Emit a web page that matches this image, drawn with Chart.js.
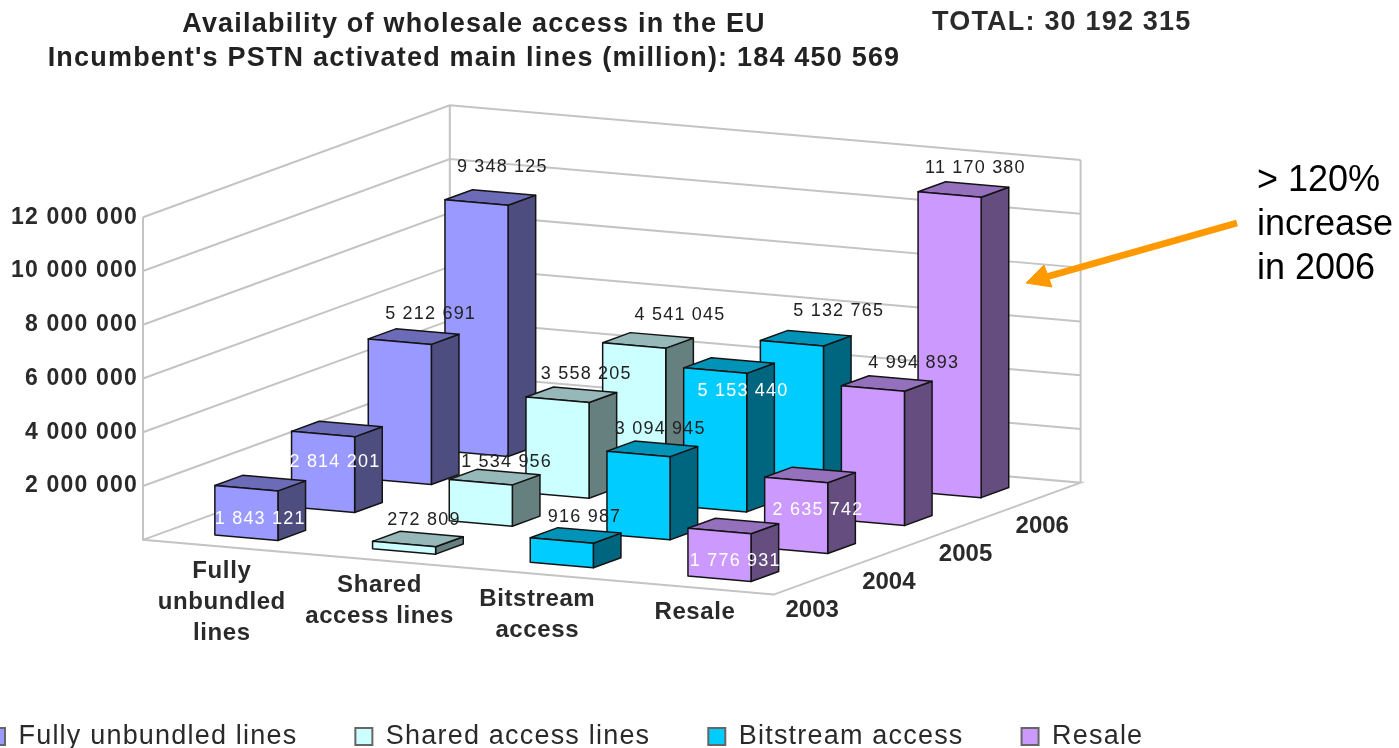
<!DOCTYPE html>
<html lang="en">
<head>
  <meta charset="UTF-8">
  <title>Availability of wholesale access in the EU</title>
  <script src="https://cdn.jsdelivr.net/npm/chart.js@4"></script>
  <style>
    html, body { margin: 0; padding: 0; background: #fff; overflow: hidden; }
    .chart-container { position: relative; width: 1399px; height: 748px; }
  </style>
</head>
<body>
  <div class="chart-container">
    <canvas id="accessChart"></canvas>
  </div>

  <script>
    // chart data
    const years = ['2003', '2004', '2005', '2006'];
    const categoryLines = [['Fully', 'unbundled', 'lines'], ['Shared', 'access lines'], ['Bitstream', 'access'], ['Resale']];
    const seriesNames = ['Fully unbundled lines', 'Shared access lines', 'Bitstream access', 'Resale'];
    const fullyUnbundled = [1843121, 2814201, 5212691, 9348125];
    const sharedAccess = [272809, 1534956, 3558205, 4541045];
    const bitstream = [916987, 3094945, 5153440, 5132765];
    const resale = [1776931, 2635742, 4994893, 11170380];
    const titleLines = ['Availability of wholesale access in the EU', "Incumbent's PSTN activated main lines (million): 184 450 569"];
    const totalLabel = 'TOTAL: 30 192 315';
    const noteLines = ['> 120%', 'increase', 'in 2006'];

    // colours per series: front, top, side
    const faceColors = [
      ['#9999ff', '#6b6bb8', '#4d4d80'],
      ['#ccffff', '#97b8b8', '#668080'],
      ['#00ccff', '#0093b8', '#006680'],
      ['#cc99ff', '#9570bd', '#664d80']
    ];

    // oblique projection, expressed in axis units
    const DEPTH_X = 0.4864;      // x units per year slot
    const DEPTH_Y = 1040000;     // value units per year slot
    const ROW_Y = -509000;       // value units per category slot
    const BAR_U = 0.3, BAR_W = 0.4;
    const BAR_D = 0.32, BAR_DEPTH = 0.36;
    const WIDE_TEXT = '1.2px';   // the reference text is stretched sideways

    // label nudges from the bar's top centre, [series][year], pixels
    const labelNudge = [
      [[0, 36], [-2, 33], [17, -23], [12, -30]],
      [[6, -19], [12, -15], [15, -21], [32, -25]],
      [[9, -18], [8, -20], [14, 25], [33, -27]],
      [[2, 35], [8, 35], [27, -20], [12, -21]]
    ];

    const allSeries = [fullyUnbundled, sharedAccess, bitstream, resale];
    const fmt = v => String(v).replace(/\B(?=(\d{3})+$)/g, ' ');
    const FONT = "'Liberation Sans', Arial, sans-serif";

    function project(chart, u, w, v) {
      return [
        chart.scales.x.getPixelForValue(u + DEPTH_X * w),
        chart.scales.y.getPixelForValue(v + DEPTH_Y * w + ROW_Y * u)
      ];
    }

    function poly(ctx, pts, fill, stroke, lw) {
      ctx.beginPath();
      pts.forEach((p, i) => i ? ctx.lineTo(p[0], p[1]) : ctx.moveTo(p[0], p[1]));
      if (fill) {
        ctx.closePath();
        ctx.fillStyle = fill;
        ctx.fill();
      }
      ctx.strokeStyle = stroke;
      ctx.lineWidth = lw;
      ctx.stroke();
    }

    const bars3d = {
      id: 'bars3d',
      beforeLayout(chart) {
        chart.ctx.letterSpacing = WIDE_TEXT;
      },
      afterLayout(chart) {
        // the title sits over the plot, the legend runs off the left edge
        chart.titleBlock.left = 0;
        chart.titleBlock.right = 948;
        chart.legend.left = -70;
        chart.legend.top = 665;
      },
      beforeDraw(chart) {
        chart.ctx.letterSpacing = WIDE_TEXT;
      },
      beforeDatasetsDraw(chart) {
        const ctx = chart.ctx;
        const P = (u, w, v) => project(chart, u, w, v);
        const n = categoryLines.length, m = years.length;
        const GRID = '#c4c4c4';
        ctx.save();
        // walls and floor
        chart.scales.y.ticks.forEach(t => {
          poly(ctx, [P(0, 0, t.value), P(0, m, t.value), P(n, m, t.value)], null, GRID, 2);
        });
        const top = chart.scales.y.ticks[chart.scales.y.ticks.length - 1].value;
        poly(ctx, [P(0, 0, top), P(0, 0, 0), P(n, 0, 0), P(n, m, 0), P(0, m, 0), P(0, 0, 0)], null, GRID, 2);
        poly(ctx, [P(0, m, top), P(0, m, 0)], null, GRID, 2);
        poly(ctx, [P(n, m, top), P(n, m, 0)], null, GRID, 2);
        ctx.restore();
      },
      afterDatasetsDraw(chart) {
        const ctx = chart.ctx;
        const P = (u, w, v) => project(chart, u, w, v);
        ctx.save();
        ctx.lineJoin = 'round';

        // bars, back row first
        for (let d = years.length - 1; d >= 0; d--) {
          allSeries.forEach((values, c) => {
            const v = values[d];
            const u0 = c + BAR_U, u1 = u0 + BAR_W;
            const w0 = d + BAR_D, w1 = w0 + BAR_DEPTH;
            const colors = faceColors[c];
            poly(ctx, [P(u1, w0, 0), P(u1, w1, 0), P(u1, w1, v), P(u1, w0, v)], colors[2], '#141414', 1.5);
            poly(ctx, [P(u0, w0, v), P(u1, w0, v), P(u1, w1, v), P(u0, w1, v)], colors[1], '#141414', 1.5);
            poly(ctx, [P(u0, w0, 0), P(u1, w0, 0), P(u1, w0, v), P(u0, w0, v)], colors[0], '#141414', 1.5);
          });
        }

        // value labels go over every bar
        ctx.textAlign = 'center';
        ctx.textBaseline = 'middle';
        ctx.font = '18px ' + FONT;
        ctx.letterSpacing = '1.2px';
        allSeries.forEach((values, c) => {
          values.forEach((v, d) => {
            const p = P(c + BAR_U + BAR_W / 2, d + BAR_D + BAR_DEPTH / 2, v);
            const nudge = labelNudge[c][d];
            ctx.fillStyle = nudge[1] > 0 ? '#fff' : '#222';
            ctx.fillText(fmt(v), p[0] + nudge[0], p[1] + nudge[1]);
          });
        });

        // category and year labels along the floor edges
        ctx.fillStyle = '#2a2a2a';
        ctx.font = 'bold 24px ' + FONT;
        ctx.letterSpacing = '0.6px';
        categoryLines.forEach((lines, c) => {
          const p = P(c + 0.5, 0, 0);
          lines.forEach((line, i) => ctx.fillText(line, p[0], p[1] + 25 + i * 31));
        });
        ctx.letterSpacing = '0px';
        years.forEach((yr, d) => {
          const p = P(categoryLines.length, d + 0.5, 0);
          ctx.fillText(yr, p[0], p[1] + 30);
        });

        // top right total
        ctx.textAlign = 'left';
        ctx.font = 'bold 27px ' + FONT;
        ctx.letterSpacing = WIDE_TEXT;
        ctx.fillText(totalLabel, 932, 23);

        // orange note
        ctx.fillStyle = '#000';
        ctx.font = '36px ' + FONT;
        ctx.letterSpacing = '0px';
        noteLines.forEach((line, i) => ctx.fillText(line, 1257, 181 + i * 44));
        poly(ctx, [[1237, 223], [1046, 277]], null, '#ff9900', 7);
        poly(ctx, [[1026, 283], [1044, 265], [1052, 287]], '#ff9900', '#ff9900', 1);
        ctx.restore();
      }
    };

    new Chart(document.getElementById('accessChart'), {
      type: 'scatter',
      data: {
        datasets: seriesNames.map((name, c) => ({
          label: name,
          data: allSeries[c].map((v, d) => ({ x: c + 0.5 + DEPTH_X * (d + 0.5), y: v })),
          backgroundColor: faceColors[c][0],
          borderColor: '#666',
          borderWidth: 2,
          pointRadius: 0,
          showLine: false
        }))
      },
      options: {
        responsive: true,
        maintainAspectRatio: false,
        animation: false,
        events: [],
        layout: { padding: 0 },
        scales: {
          x: {
            type: 'linear',
            min: 0,
            max: 7.9645,   // runs on past the floor, the note sits in the spare room
            grid: { display: false },
            border: { display: false },
            ticks: { display: false },
            afterFit(scale) { scale.height = 59.4; }
          },
          y: {
            type: 'linear',
            min: -2000000,
            max: 16000000,
            grid: { display: false, drawTicks: false },
            border: { display: false },
            ticks: {
              stepSize: 2000000,
              autoSkip: false,
              padding: 5,
              color: '#2a2a2a',
              font: { family: FONT, size: 23, weight: 'bold' },
              callback: v => fmt(v)
            },
            afterBuildTicks(scale) {
              scale.ticks = scale.ticks.filter(t => t.value > 0 && t.value <= 12000000);
            },
            afterFit(scale) { scale.width = 143; }
          }
        },
        plugins: {
          title: {
            display: true,
            text: titleLines,
            color: '#222',
            font: { family: FONT, size: 27, weight: 'bold', lineHeight: 1.26 },
            padding: { top: 8, bottom: 33.6 }
          },
          legend: {
            position: 'bottom',
            align: 'start',
            labels: {
              color: '#2a2a2a',
              font: { family: FONT, size: 27 },
              boxWidth: 17,
              boxHeight: 17,
              padding: 58
            }
          },
          tooltip: { enabled: false }
        }
      },
      plugins: [bars3d]
    });
  </script>
</body>
</html>
